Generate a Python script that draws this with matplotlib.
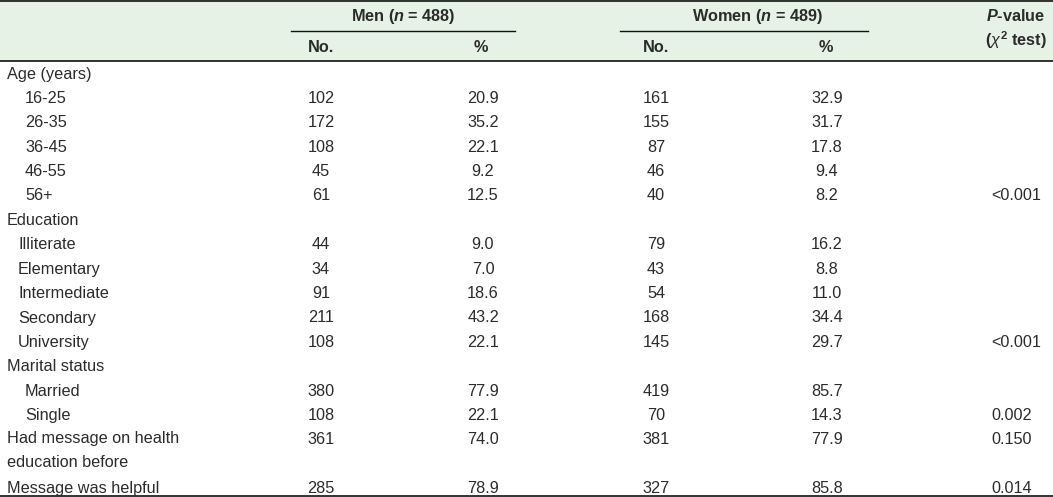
import matplotlib
matplotlib.use("Agg")
import matplotlib.pyplot as plt

# table content
row_labels = ["Age (years)", "16-25", "26-35", "36-45", "46-55", "56+",
              "Education", "Illiterate", "Elementary", "Intermediate", "Secondary", "University",
              "Marital status", "Married", "Single",
              "Had message on health\neducation before", "Message was helpful"]
row_indent = [0, 1, 1, 1, 1, 1, 0, 2, 2, 2, 2, 2, 0, 1, 1, 0, 0]
men_no = ["", "102", "172", "108", "45", "61", "", "44", "34", "91", "211", "108",
          "", "380", "108", "361", "285"]
men_pct = ["", "20.9", "35.2", "22.1", "9.2", "12.5", "", "9.0", "7.0", "18.6", "43.2", "22.1",
           "", "77.9", "22.1", "74.0", "78.9"]
women_no = ["", "161", "155", "87", "46", "40", "", "79", "43", "54", "168", "145",
            "", "419", "70", "381", "327"]
women_pct = ["", "32.9", "31.7", "17.8", "9.4", "8.2", "", "16.2", "8.8", "11.0", "34.4", "29.7",
             "", "85.7", "14.3", "77.9", "85.8"]
p_values = ["", "", "", "", "", "<0.001", "", "", "", "", "", "<0.001",
            "", "", "0.002", "0.150", "0.014"]

plt.rcParams["font.family"] = ["Liberation Sans", "DejaVu Sans"]
plt.rcParams["mathtext.fontset"] = "custom"
plt.rcParams["mathtext.rm"] = "Liberation Sans"
plt.rcParams["mathtext.it"] = "Liberation Sans:italic"
plt.rcParams["mathtext.bf"] = "Liberation Sans:bold"
plt.rcParams["mathtext.bfit"] = "Liberation Sans:italic:bold"

W, H = 1053, 497
fig = plt.figure(figsize=(W / 100, H / 100), dpi=100)
ax = fig.add_axes([0, 0, 1, 1])
ax.set_xlim(0, W); ax.set_ylim(H, 0); ax.axis("off")

FS = 11.7
TXT = "#2b2b2b"

# header band + rules
ax.add_patch(plt.Rectangle((0, 0), W, 61, facecolor="#e5f2e5", edgecolor="none"))
ax.plot([0, W], [0.8, 0.8], color="#111", lw=1.2)
ax.plot([0, W], [61, 61], color="#111", lw=1.2)
ax.plot([0, W], [495.5, 495.5], color="#111", lw=1.2)
ax.plot([291, 515], [31, 31], color="#111", lw=1.0)
ax.plot([620, 868], [31, 31], color="#111", lw=1.0)

hdr = dict(fontsize=FS, fontweight="bold", color=TXT, va="center", ha="center")
ax.text(403, 17, "Men ($\\mathbfit{n}$ = 488)", **hdr)
ax.text(757, 17, "Women ($\\mathbfit{n}$ = 489)", **hdr)
ax.text(321, 47, "No.", **hdr)
ax.text(481, 47, "%", **hdr)
ax.text(656, 47, "No.", **hdr)
ax.text(826, 47, "%", **hdr)
ax.text(1016, 16, "$\\mathbfit{P}$-value", **hdr)
ax.text(1016, 40, "($\\mathit{\\chi}^{\\mathbf{2}}$ test)", **hdr)

# body rows
y = 74
step = 24.4
indent_x = [7, 25, 18]
for i, lab in enumerate(row_labels):
    two_line = "\n" in lab
    ax.text(indent_x[row_indent[i]], y - 8.5 if two_line else y, lab, fontsize=FS, color=TXT,
            va="top" if two_line else "center", ha="left", linespacing=1.75)
    ax.text(321, y, men_no[i], fontsize=FS, color=TXT, va="center", ha="center")
    ax.text(483, y, men_pct[i], fontsize=FS, color=TXT, va="center", ha="center")
    ax.text(656, y, women_no[i], fontsize=FS, color=TXT, va="center", ha="center")
    ax.text(827, y, women_pct[i], fontsize=FS, color=TXT, va="center", ha="center")
    ax.text(991, y, p_values[i], fontsize=FS, color=TXT, va="center", ha="left")
    y += step * (2 if two_line else 1)

plt.savefig("out.png", dpi=100)
